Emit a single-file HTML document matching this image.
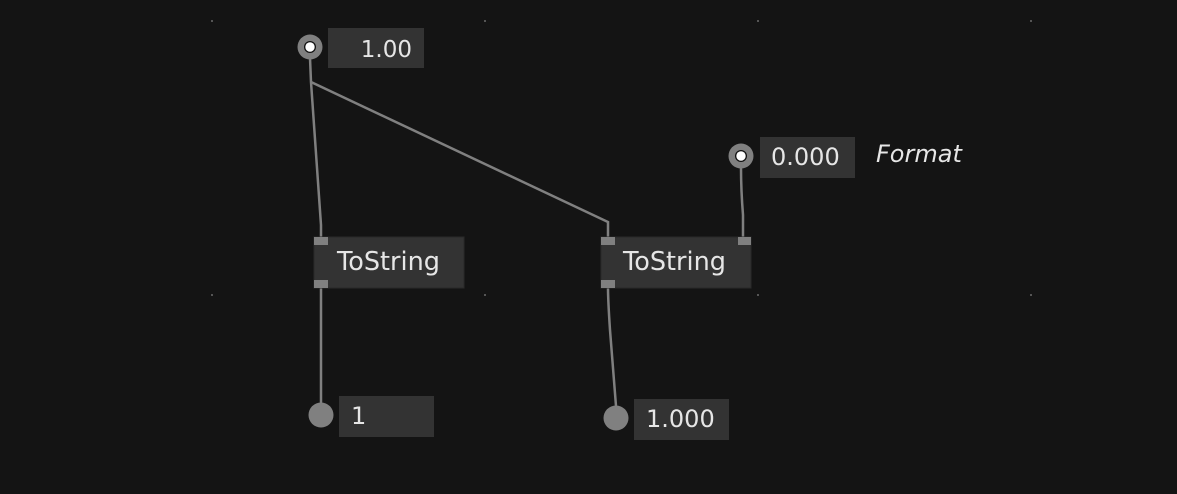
<!DOCTYPE html>
<html><head><style>
body{margin:0;background:#141414;width:1177px;height:494px;overflow:hidden}
svg{display:block}
text{font-family:"DejaVu Sans","Liberation Sans",sans-serif;fill:#e6e6e6}
</style></head><body>
<svg width="1177" height="494" viewBox="0 0 1177 494">
<rect width="1177" height="494" fill="#141414"/>
<g fill="#555">
<rect x="211" y="20" width="2" height="2"/><rect x="484" y="20" width="2" height="2"/><rect x="757" y="20" width="2" height="2"/><rect x="1030" y="20" width="2" height="2"/>
<rect x="211" y="294" width="2" height="2"/><rect x="484" y="294" width="2" height="2"/><rect x="757" y="294" width="2" height="2"/><rect x="1030" y="294" width="2" height="2"/>
</g>
<g stroke="#808080" stroke-width="2.5" fill="none">
<path d="M310 58 L311 82 L321 225 L321 237"/>
<path d="M311 82 L608 222 L608 237"/>
<path d="M741 168 Q741 190 743 215 L743 237"/>
<path d="M321 288 L321 403"/>
<path d="M608 288 Q608 300 610 330 L616 406"/>
</g>
<circle cx="310" cy="47" r="12.5" fill="#808080"/>
<circle cx="310" cy="47" r="6" fill="#111"/>
<circle cx="310" cy="47" r="4.7" fill="#fff"/>
<rect x="328" y="28" width="96" height="40" fill="#333"/>
<text x="412" y="57" font-size="23" text-anchor="end">1.00</text>
<circle cx="741" cy="156" r="12.5" fill="#808080"/>
<circle cx="741" cy="156" r="6" fill="#111"/>
<circle cx="741" cy="156" r="4.7" fill="#fff"/>
<rect x="760" y="137" width="95" height="41" fill="#333"/>
<text x="771" y="165" font-size="24">0.000</text>
<text x="876" y="162" font-size="24" font-style="italic">Format</text>
<rect x="314" y="237" width="150" height="51" fill="#333" stroke="#2a2a2a"/>
<rect x="314" y="237" width="14" height="8" fill="#808080"/>
<rect x="314" y="280" width="14" height="8" fill="#808080"/>
<text x="337" y="270" font-size="25.5">ToString</text>
<rect x="601" y="237" width="150" height="51" fill="#333" stroke="#2a2a2a"/>
<rect x="601" y="237" width="14" height="8" fill="#808080"/>
<rect x="738" y="237" width="13" height="8" fill="#808080"/>
<rect x="601" y="280" width="14" height="8" fill="#808080"/>
<text x="623" y="270" font-size="25.5">ToString</text>
<circle cx="321" cy="415" r="12.5" fill="#808080"/>
<rect x="339" y="396" width="95" height="41" fill="#333"/>
<text x="351" y="424" font-size="24">1</text>
<circle cx="616" cy="418" r="12.5" fill="#808080"/>
<rect x="634" y="399" width="95" height="41" fill="#333"/>
<text x="646" y="427" font-size="24">1.000</text>
</svg>
</body></html>
